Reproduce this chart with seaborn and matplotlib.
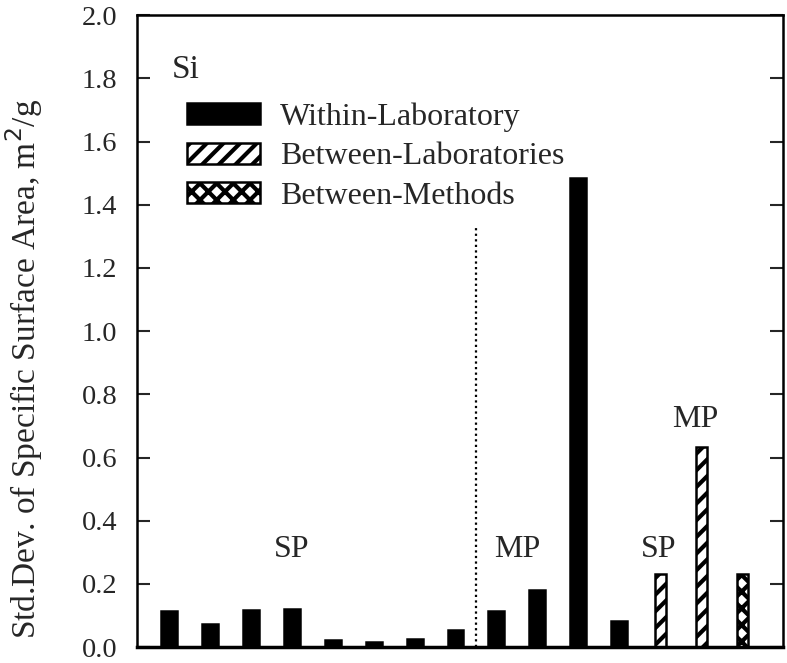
import numpy as np
import pandas as pd
import matplotlib
matplotlib.use("Agg")
import matplotlib.pyplot as plt
import seaborn as sns

# Si: standard deviations of specific surface area (m2/g)
samples = ["W1", "W2", "W3", "W4", "W5", "W6", "W7", "W8",
           "W9", "W10", "W11", "W12", "BL1", "BL2", "BM1"]
std_dev = [0.113, 0.073, 0.116, 0.119, 0.021, 0.016, 0.026, 0.055,
           0.113, 0.180, 1.485, 0.081, 0.230, 0.634, 0.230]
source = (["Within-Laboratory"] * 12 + ["Between-Laboratories"] * 2
          + ["Between-Methods"])
series = ["Within-Laboratory", "Between-Laboratories", "Between-Methods"]

df = pd.DataFrame({"sample": samples, "std": std_dev, "source": source})

sns.set_style("ticks")
plt.rcParams["font.family"] = ["Liberation Serif", "DejaVu Serif"]
plt.rcParams["hatch.linewidth"] = 3.0
plt.rcParams["hatch.color"] = "black"

fig = plt.figure(figsize=(7.87, 6.63), dpi=100)
ax = fig.add_axes([0.174, 0.024, 0.821, 0.953])

styles = {
    "Within-Laboratory": dict(color="black", width=0.39, hatch=None),
    "Between-Laboratories": dict(color="white", width=0.27, hatch="//"),
    "Between-Methods": dict(color="white", width=0.27, hatch="xx"),
}
for name in series:
    st = styles[name]
    sub = df[df["source"] == name]
    sns.barplot(data=sub, x="sample", y="std", order=samples, ax=ax,
                color=st["color"], width=st["width"], hatch=st["hatch"],
                edgecolor="black", linewidth=1.8, saturation=1,
                errorbar=None, label=name)

# divider between single-point and multi-point results
ax.vlines(7.5, 0, 1.33, colors="black", linestyles=(0, (1, 1.5)), lw=1.6)

ax.text(3.0, 0.31, "SP", ha="center", va="center", fontsize=23)
ax.text(8.5, 0.31, "MP", ha="center", va="center", fontsize=23)
ax.text(11.95, 0.31, "SP", ha="center", va="center", fontsize=23)
ax.text(12.85, 0.72, "MP", ha="center", va="center", fontsize=23)
ax.text(0.054, 0.90, "Si", transform=ax.transAxes, ha="left",
        va="baseline", fontsize=24)

ax.set_xlim(-0.78, 15.0)
ax.set_ylim(0, 2.0)
ax.set_yticks(np.arange(0, 2.01, 0.2))
ax.set_yticklabels([f"{v:.1f}" for v in np.arange(0, 2.01, 0.2)])
ax.set_xticks([])
ax.set_xlabel("")
ax.set_ylabel("Std.Dev. of Specific Surface Area, m$^2$/g", fontsize=24)
ax.yaxis.set_label_coords(-0.142, 0.44)

ax.tick_params(axis="y", direction="in", length=9.5, width=1.5,
               labelsize=20.5, right=True, pad=14)
for sp in ax.spines.values():
    sp.set_visible(True)
    sp.set_linewidth(1.8)
    sp.set_color("black")
ax.spines["bottom"].set_linewidth(2.5)

ax.legend(loc="upper left", bbox_to_anchor=(0.0774, 0.862), frameon=False,
          fontsize=23, handlelength=2.3, handleheight=0.62,
          handletextpad=0.6, labelspacing=0.33, borderpad=0,
          borderaxespad=0)

fig.savefig("out.png", dpi=100)
